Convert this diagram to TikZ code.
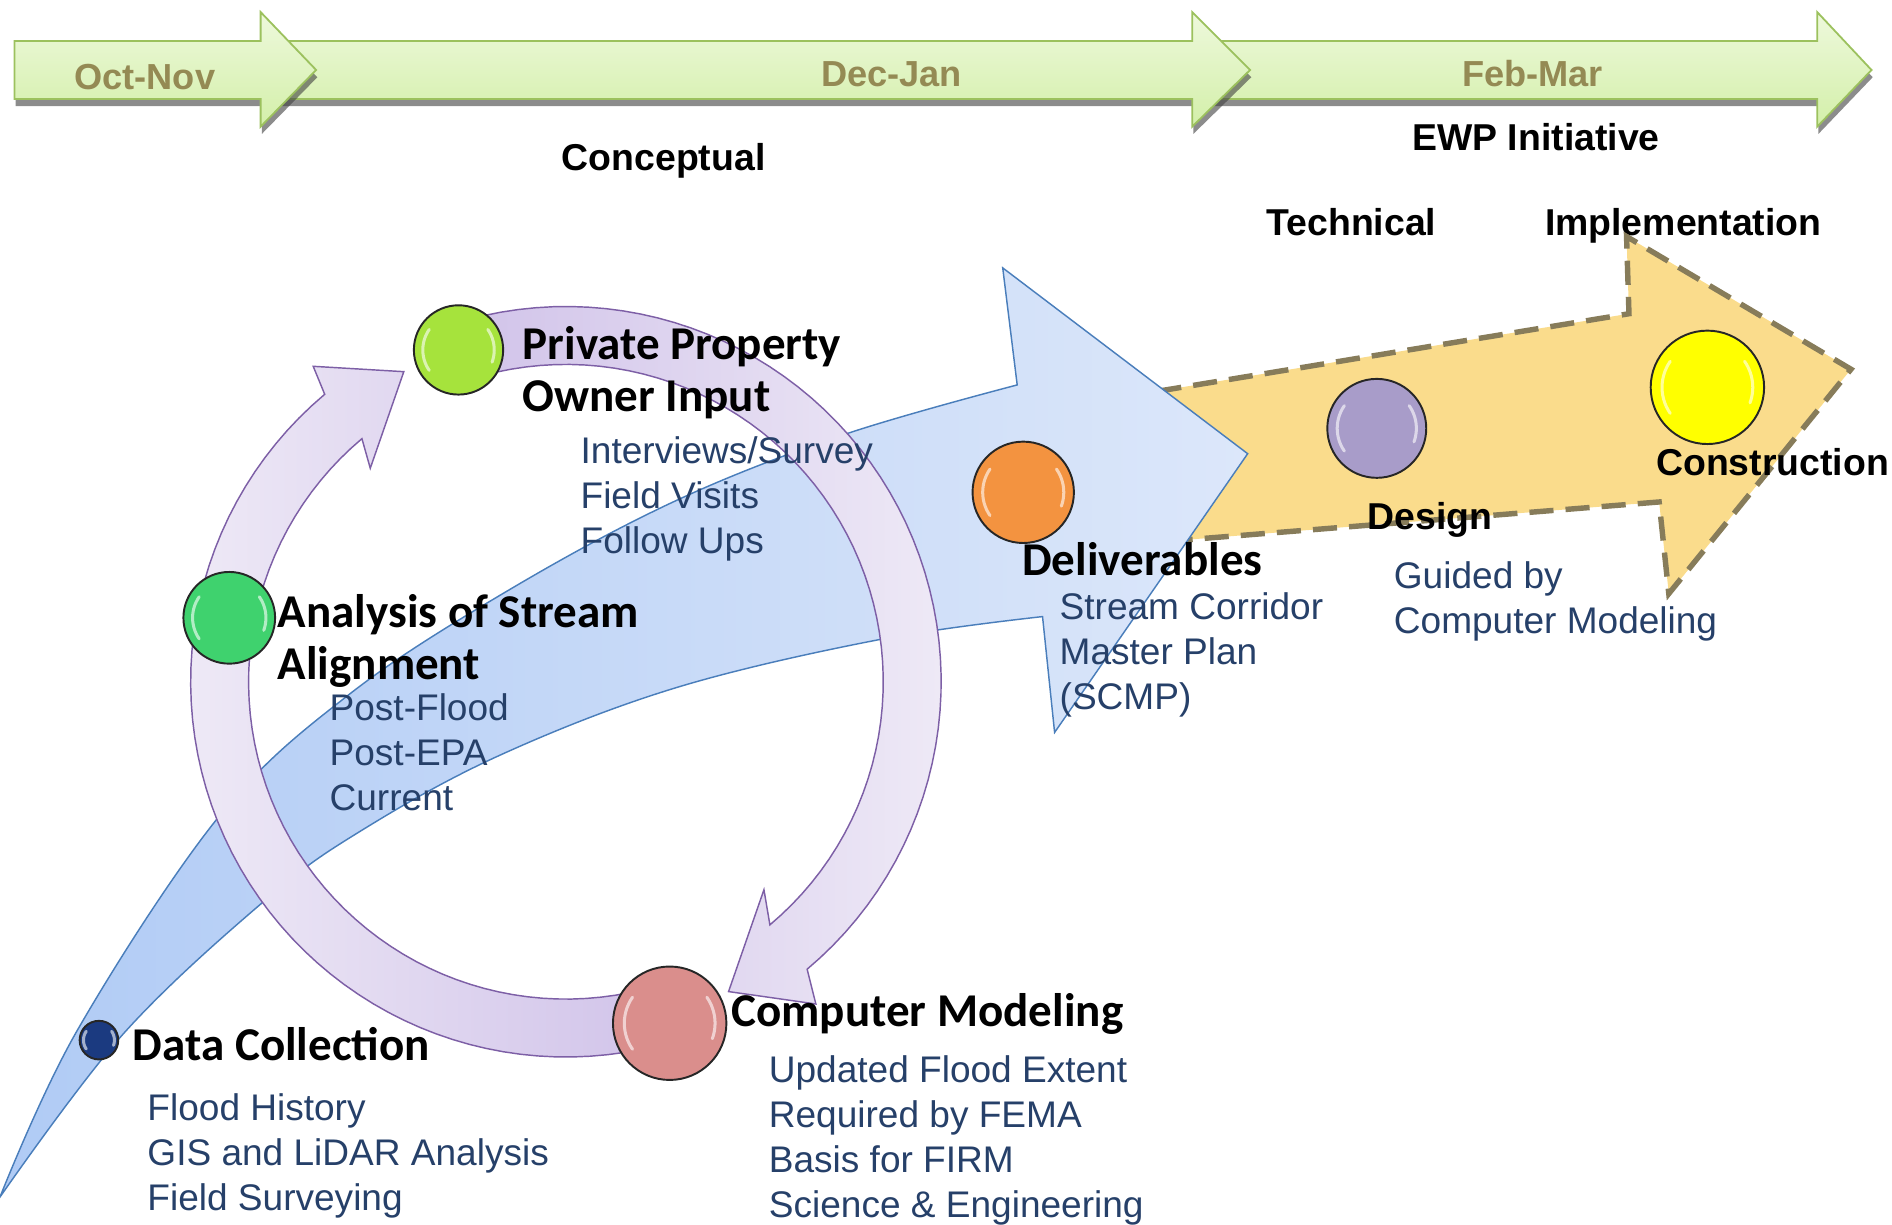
\documentclass[tikz,border=0pt]{standalone}
\usepackage{fontspec}
\setmainfont{Liberation Sans}
\newfontfamily\calibri{Carlito}
\usetikzlibrary{shadows}

\definecolor{gruenhell}{HTML}{EEF9DC}
\definecolor{gruendunkel}{HTML}{D3EFA9}
\definecolor{gruenrand}{HTML}{9CC15E}
\definecolor{monat}{HTML}{948A54}
\definecolor{gelb}{HTML}{FADC8C}
\definecolor{gelbrand}{HTML}{877C5A}
\definecolor{blauhell}{HTML}{DCE7FA}
\definecolor{blaudunkel}{HTML}{B0CBF5}
\definecolor{blaurand}{HTML}{4A7EBB}
\definecolor{ringhell}{HTML}{EEE9F6}
\definecolor{ringdunkel}{HTML}{D0C2E9}
\definecolor{ringrand}{HTML}{7D5FA6}
\definecolor{listblau}{HTML}{264069}
\definecolor{kugelnavy}{HTML}{1B3A80}
\definecolor{kugelgruen}{HTML}{3FD26E}
\definecolor{kugellime}{HTML}{A6E33C}
\definecolor{kugelrosa}{HTML}{DA8E8C}
\definecolor{kugelorange}{HTML}{F39340}
\definecolor{kugellila}{HTML}{A89CC9}
\definecolor{kugelgelb}{HTML}{FFFF00}

\tikzset{
  zeitpfeil/.style={top color=gruenhell, bottom color=gruendunkel, draw=gruenrand, line width=1.5pt,
    drop shadow={shadow xshift=1pt, shadow yshift=-6pt, fill=black!75, opacity=.6}},
  gelbpfeil/.style={fill=gelb, draw=gelbrand, line width=4.5pt, dash pattern=on 20pt off 10pt},
  blaupfeil/.style={left color=blaudunkel, right color=blauhell, draw=blaurand, line width=1.2pt},
  ringpfeil/.style={draw=ringrand, line width=1.2pt},
  kugel/.style={circle, draw=black!85, line width=1.6pt, inner sep=0pt},
  glanz/.style={white, opacity=.6, line width=2.5pt, line cap=round},
  monatstext/.style={anchor=base, text=monat, font=\bfseries\fontsize{30}{36}\selectfont},
  phase/.style={anchor=base, font=\bfseries\fontsize{31}{37}\selectfont},
  schritt/.style={anchor=base west, align=left, inner sep=0pt, font=\calibri\bfseries\fontsize{39}{43}\selectfont},
  punkte/.style={anchor=base west, align=left, inner sep=0pt, text=listblau, font=\fontsize{30.7}{37.3}\selectfont}
}

% Kugel: Name, Mitte, Radius, Farbe
\newcommand{\kugel}[4]{%
  \node[kugel, fill=#4, minimum size={2pt*#3}] (#1) at (#2) {};
  \begin{scope}[shift={(#2)}]
    \draw[glanz] plot[domain=145:215, samples=15] ({0.8*#3*cos(\x)},{0.8*#3*sin(\x)});
    \draw[glanz] plot[domain=-35:20, samples=15] ({0.8*#3*cos(\x)},{0.8*#3*sin(\x)});
  \end{scope}}

\begin{document}
\begin{tikzpicture}[x=1pt,y=-1pt]
	\useasboundingbox (0,0) rectangle (1568,1015);
	%Zeitleiste
	\foreach \a/\h/\s in {1000/1506/1551, 230/988/1036, 12/216/262}
		\draw[zeitpfeil] (\a,34) -- (\h,34) -- (\h,10) -- (\s,58) -- (\h,105) -- (\h,82) -- (\a,82) -- cycle;
	\node[monatstext] (okt) at (120,74) {Oct-Nov};
	\node[monatstext] (dez) at (739,72) {Dec-Jan};
	\node[monatstext] (feb) at (1270,72) {Feb-Mar};
	%Phasen
	\node[phase] (konzept) at (550,141) {Conceptual};
	\node[phase] (ewp) at (1273,125) {EWP Initiative};
	\node[phase] (technik) at (1120,195) {Technical};
	\node[phase] (umsetzung) at (1395,195) {Implementation};
	%gelber Pfeil
	\draw[gelbpfeil] (900,334) -- (1350,260) -- (1348,196) -- (1534,306) -- (1383,492) -- (1375,416) -- (900,454) -- cycle;
	%blauer Pfeil
	\draw[blaupfeil] plot[smooth, tension=.6] coordinates {(0,992) (64,854) (182,676) (290,575) (420,490) (560,415) (700,360) (843,319)}
		-- (831,222) -- (1034,376) -- (874,607)
		-- plot[smooth, tension=.6] coordinates {(864,511) (729,530) (560,570) (414,626) (300,688) (221,745) (102,857) (0,992)} -- cycle;
	%Kreispfeile
	\begin{scope}[shift={(469,565)}]
		\draw[ringpfeil, left color=ringhell, right color=ringdunkel] plot[domain=73:230, samples=60] (\x:311)
			-- (231.3:335) -- (242.4:290) -- (227.5:240) -- plot[domain=230:73, samples=60] (\x:263) -- cycle;
		\draw[ringpfeil, left color=ringdunkel, right color=ringhell] plot[domain=252:410, samples=60] (\x:311)
			-- (412.2:338) -- (422.3:290) -- (406.4:238) -- plot[domain=410:252, samples=60] (\x:263) -- cycle;
	\end{scope}
	%Kugeln
	\kugel{daten}{82,862}{16}{kugelnavy}
	\kugel{analyse}{190,512}{38}{kugelgruen}
	\kugel{privat}{380,290}{37}{kugellime}
	\kugel{modell}{555,848}{47}{kugelrosa}
	\kugel{ergebnis}{848,408}{42}{kugelorange}
	\kugel{entwurf}{1141,355}{41}{kugellila}
	\kugel{bau}{1415,321}{47}{kugelgelb}
	%Texte (base = letzte Zeile)
	\node[schritt] (privattext) at (433,341) {Private Property\\Owner Input};
	\node[punkte] (privatliste) at (481,459) {Interviews/Survey\\Field Visits\\Follow Ups};
	\node[schritt] (analysetext) at (230,563) {Analysis of Stream\\Alignment};
	\node[punkte] (analyseliste) at (273,672) {Post-Flood\\Post-EPA\\Current};
	\node[schritt] (datentext) at (110,879) {Data Collection};
	\node[punkte] (datenliste) at (122,1003) {Flood History\\GIS and LiDAR Analysis\\Field Surveying};
	\node[schritt] (modelltext) at (606,851) {Computer Modeling};
	\node[punkte] (modellliste) at (637,1009) {Updated Flood Extent\\Required by FEMA\\Basis for FIRM\\Science \& Engineering};
	\node[schritt] (ergebnistext) at (847,477) {Deliverables};
	\node[punkte] (ergebnisliste) at (878,588) {Stream Corridor\\Master Plan\\(SCMP)};
	\node[phase, anchor=base west] (entwurftext) at (1130,439) {Design};
	\node[punkte] (entwurfliste) at (1155,525) {Guided by\\Computer Modeling};
	\node[phase, anchor=base west] (bautext) at (1369,394) {Construction};
\end{tikzpicture}
\end{document}
